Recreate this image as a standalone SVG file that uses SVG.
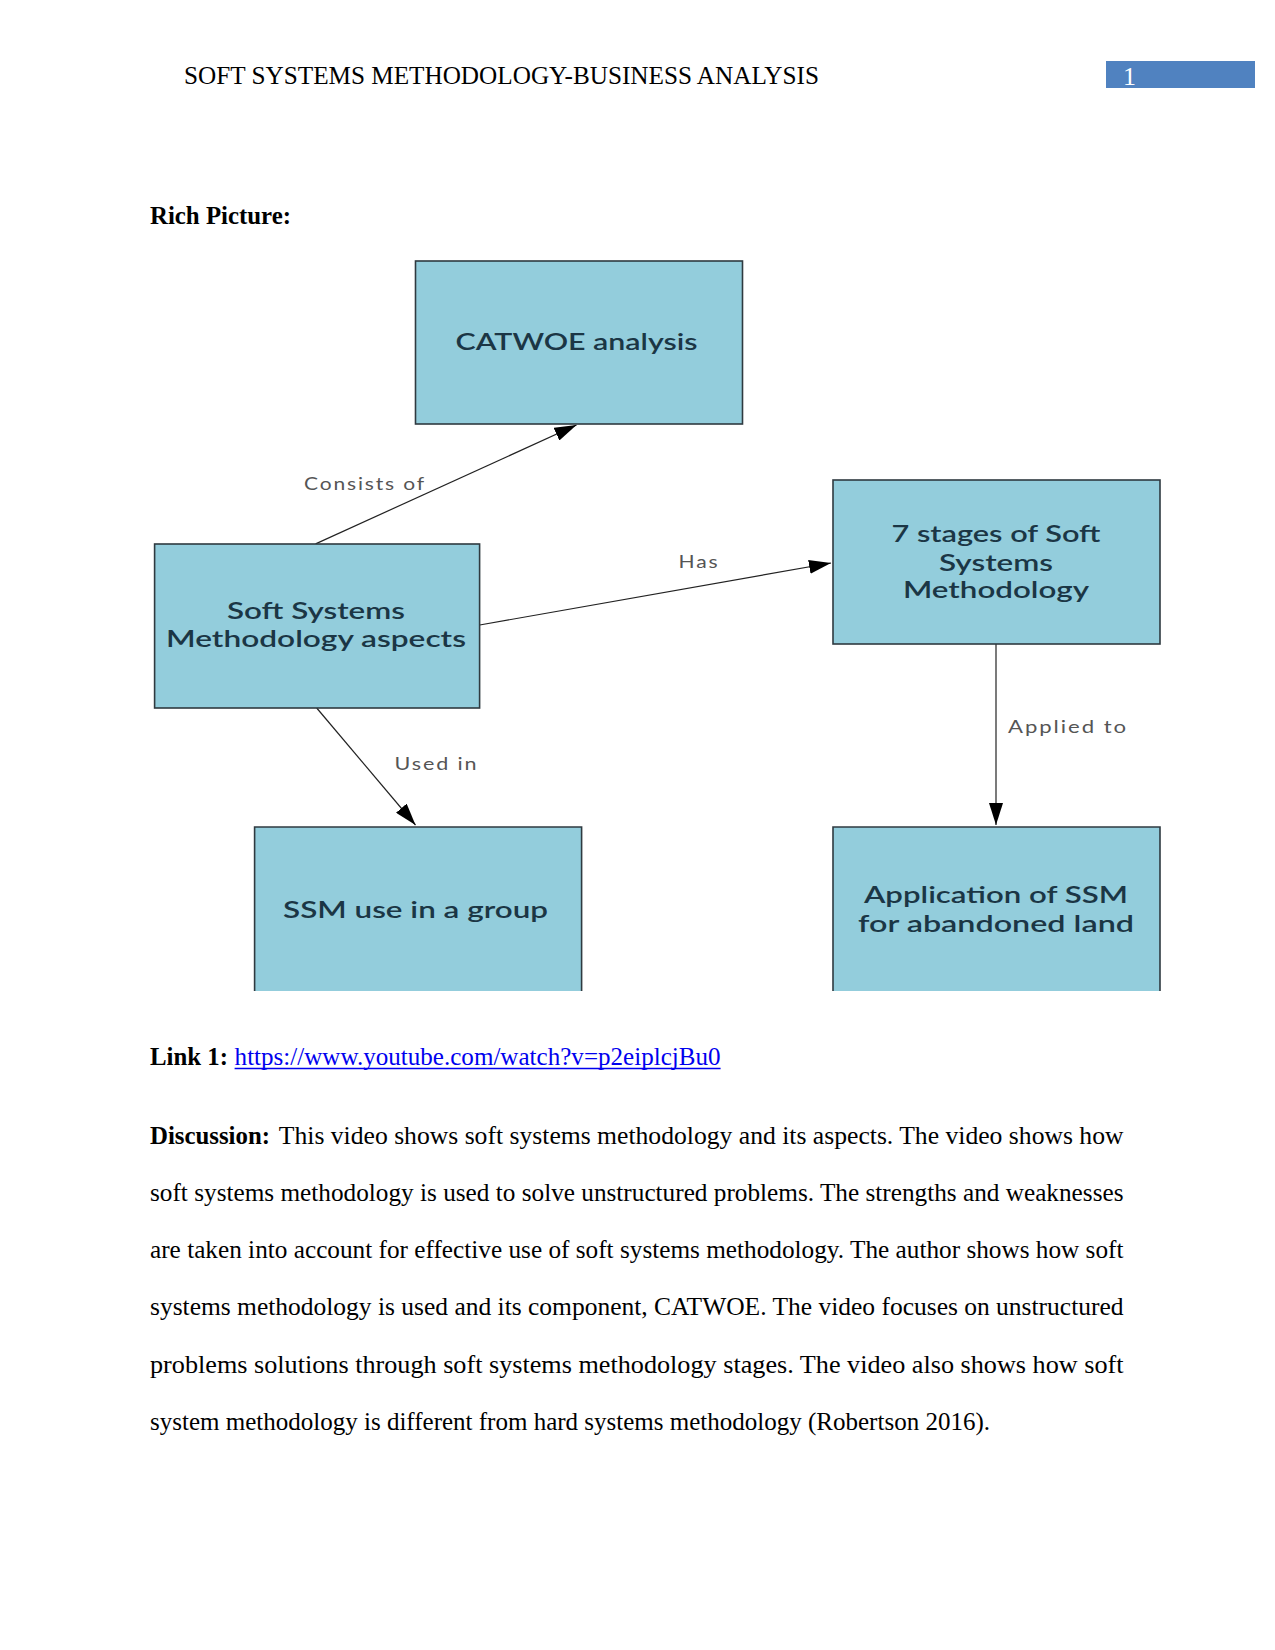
<svg xmlns="http://www.w3.org/2000/svg" width="1275" height="1650" viewBox="0 0 1275 1650">
<defs>
<marker id="arr" viewBox="0 0 22 14" refX="22" refY="7" markerWidth="22" markerHeight="14" markerUnits="userSpaceOnUse" orient="auto">
<path d="M0,0 L22,7 L0,14 Z" fill="#000"/>
</marker>
</defs>
<style>
.doc{font-family:"Liberation Serif","Times New Roman",serif;font-size:26px;fill:#000}
.b{font-weight:bold}
.box{fill:#93CDDC;stroke:#2f3a40;stroke-width:1.6}
.fill{fill:#93CDDC}
.edge{fill:none;stroke:#2f3a40;stroke-width:1.6}
.nt{font-family:Lato,"Open Sans",sans-serif;font-size:22px;font-weight:600;fill:#1b3645;text-anchor:middle}
.lbl{font-family:Lato,"Open Sans",sans-serif;font-size:17px;fill:#555;letter-spacing:1.5px}
.con{fill:none;stroke:#222;stroke-width:1.2}
</style>
<rect width="1275" height="1650" fill="#fff"/>
<!-- header -->
<text class="doc" x="184" y="84" textLength="635" lengthAdjust="spacingAndGlyphs">SOFT SYSTEMS METHODOLOGY-BUSINESS ANALYSIS</text>
<rect x="1106" y="61" width="149" height="27" fill="#5082C0"/>
<text class="doc" x="1123" y="85" style="fill:#fff">1</text>
<text class="doc b" x="150" y="224" textLength="141" lengthAdjust="spacingAndGlyphs">Rich Picture:</text>

<!-- connectors -->
<g id="connectors">
<line class="con" x1="315.6" y1="543.9" x2="576.5" y2="425" marker-end="url(#arr)"/>
<line class="con" x1="479.7" y1="625" x2="831" y2="563" marker-end="url(#arr)"/>
<line class="con" x1="316.7" y1="708" x2="415.5" y2="825" marker-end="url(#arr)"/>
<line class="con" x1="996" y1="644" x2="996" y2="825" marker-end="url(#arr)"/>
<text class="lbl" x="304" y="490" textLength="122" lengthAdjust="spacingAndGlyphs">Consists of</text>
<text class="lbl" x="678.5" y="568" textLength="41" lengthAdjust="spacingAndGlyphs">Has</text>
<text class="lbl" x="394.5" y="770" textLength="84" lengthAdjust="spacingAndGlyphs">Used in</text>
<text class="lbl" x="1008" y="733" textLength="120" lengthAdjust="spacingAndGlyphs">Applied to</text>
</g>

<!-- nodes -->
<g id="node-catwoe">
<rect class="box" x="415.5" y="261" width="327" height="163"/>
<text class="nt" x="576.5" y="350" textLength="242" lengthAdjust="spacingAndGlyphs">CATWOE analysis</text>
</g>
<g id="node-ssm-aspects">
<rect class="box" x="154.6" y="544" width="325" height="164"/>
<text class="nt" x="316" y="619" textLength="178" lengthAdjust="spacingAndGlyphs">Soft Systems</text>
<text class="nt" x="316" y="646.5" textLength="300" lengthAdjust="spacingAndGlyphs">Methodology aspects</text>
</g>
<g id="node-7stages">
<rect class="box" x="833" y="480" width="327" height="164"/>
<text class="nt" x="996" y="541.5" textLength="209" lengthAdjust="spacingAndGlyphs">7 stages of Soft</text>
<text class="nt" x="996" y="570.5" textLength="114" lengthAdjust="spacingAndGlyphs">Systems</text>
<text class="nt" x="996" y="598" textLength="186" lengthAdjust="spacingAndGlyphs">Methodology</text>
</g>
<g id="node-group">
<rect class="fill" x="254.6" y="827" width="327" height="164"/>
<path class="edge" d="M254.6,991 V827 H581.6 V991"/>
<text class="nt" x="415.5" y="917.5" textLength="265" lengthAdjust="spacingAndGlyphs">SSM use in a group</text>
</g>
<g id="node-application">
<rect class="fill" x="833" y="827" width="327" height="164"/>
<path class="edge" d="M833,991 V827 H1160 V991"/>
<text class="nt" x="996" y="903" textLength="264" lengthAdjust="spacingAndGlyphs">Application of SSM</text>
<text class="nt" x="996" y="931.5" textLength="276" lengthAdjust="spacingAndGlyphs">for abandoned land</text>
</g>

<!-- link -->
<text class="doc b" x="150" y="1064.5" textLength="78" lengthAdjust="spacingAndGlyphs">Link 1:</text>
<text class="doc" x="234.6" y="1064.5" textLength="486" lengthAdjust="spacingAndGlyphs" style="fill:#0000EE">https://www.youtube.com/watch?v=p2eiplcjBu0</text>
<line x1="234.6" y1="1068.5" x2="720.6" y2="1068.5" stroke="#0000EE" stroke-width="1.6"/>

<!-- discussion -->
<text class="doc b" x="150" y="1143.5" textLength="120" lengthAdjust="spacingAndGlyphs">Discussion:</text>
<text class="doc" x="278.8" y="1143.5" textLength="844.7" lengthAdjust="spacingAndGlyphs">This video shows soft systems methodology and its aspects. The video shows how</text>
<text class="doc" x="150" y="1200.5" textLength="973.5" lengthAdjust="spacingAndGlyphs">soft systems methodology is used to solve unstructured problems. The strengths and weaknesses</text>
<text class="doc" x="150" y="1258" textLength="973.5" lengthAdjust="spacingAndGlyphs">are taken into account for effective use of soft systems methodology. The author shows how soft</text>
<text class="doc" x="150" y="1315" textLength="973.5" lengthAdjust="spacingAndGlyphs">systems methodology is used and its component, CATWOE. The video focuses on unstructured</text>
<text class="doc" x="150" y="1372.5" textLength="973.5" lengthAdjust="spacingAndGlyphs">problems solutions through soft systems methodology stages. The video also shows how soft</text>
<text class="doc" x="150" y="1429.5" textLength="840" lengthAdjust="spacingAndGlyphs">system methodology is different from hard systems methodology (Robertson 2016).</text>
</svg>
